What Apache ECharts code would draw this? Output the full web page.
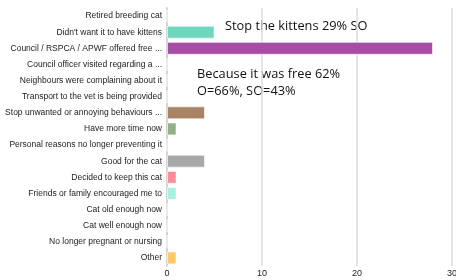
<!DOCTYPE html>
<html>
<head>
<meta charset="utf-8">
<script src="https://cdn.jsdelivr.net/npm/echarts@6/dist/echarts.min.js"></script>
<style>
  html, body { margin: 0; padding: 0; background: #fff; }
  #chart { width: 456px; height: 280px; }
</style>
</head>
<body>
<div id="chart"></div>
<script>
var reasons = [
    'Retired breeding cat',
    "Didn't want it to have kittens",
    'Council / RSPCA / APWF offered free ...',
    'Council officer visited regarding a ...',
    'Neighbours were complaining about it',
    'Transport to the vet is being provided',
    'Stop unwanted or annoying behaviours ...',
    'Have more time now',
    'Personal reasons no longer preventing it',
    'Good for the cat',
    'Decided to keep this cat',
    'Friends or family encouraged me to',
    'Cat old enough now',
    'Cat well enough now',
    'No longer pregnant or nursing',
    'Other'
];
var counts = [0, 5, 28, 0, 0, 0, 4, 1, 0, 4, 1, 1, 0, 0, 0, 1];
var barColors = [
    '#e8d8e0', '#6dd6bd', '#a64ca4', '#e6d6c0', '#cfe0ea', '#f0d8b0',
    '#a88464', '#90b088', '#e0e0e0', '#a8a8a8', '#ff8c96', '#a6f0de',
    '#e0e0f0', '#f0e8c8', '#e0e8f0', '#ffc866'
];
var xTicks = [0, 10, 20, 30];

var myChart = echarts.init(document.getElementById('chart'));

var option = {
    animation: false,
    grid: {
        left: 167,
        right: 4,
        top: 8,
        bottom: 14,
        outerBoundsMode: 'none',
        containLabel: false
    },
    xAxis: {
        type: 'value',
        min: xTicks[0],
        max: xTicks[xTicks.length - 1],
        interval: xTicks[1] - xTicks[0],
        axisLine: { show: false },
        axisTick: { show: false },
        splitLine: { lineStyle: { color: '#dcdcdc', width: 1.5 } },
        axisLabel: {
            color: '#222',
            fontSize: 9,
            fontFamily: 'Liberation Sans, Arial',
            margin: 3
        }
    },
    yAxis: {
        type: 'category',
        inverse: true,
        data: reasons,
        axisTick: { show: false },
        axisLine: { lineStyle: { color: '#d4d4d4', width: 2 } },
        axisLabel: {
            color: '#222',
            fontSize: 8.5,
            fontFamily: 'Liberation Sans, Arial',
            margin: 5
        }
    },
    series: [{
        type: 'bar',
        barWidth: '80%',
        data: counts.map(function (v, i) {
            return {
                value: v,
                itemStyle: {
                    color: barColors[i],
                    borderColor: 'rgba(255,255,255,0.6)',
                    borderWidth: 1
                }
            };
        })
    }],
    graphic: [{
        type: 'text',
        left: 225,
        top: 20,
        style: {
            text: 'Stop the kittens 29% SO',
            fill: '#111',
            font: '12.8px "Open Sans", sans-serif'
        }
    }, {
        type: 'text',
        left: 197,
        top: 66,
        style: {
            text: 'Because it was free 62%\nO=66%, SO=43%',
            fill: '#111',
            lineHeight: 17,
            font: '12.8px "Open Sans", sans-serif'
        }
    }]
};
myChart.setOption(option);
</script>
</body>
</html>
